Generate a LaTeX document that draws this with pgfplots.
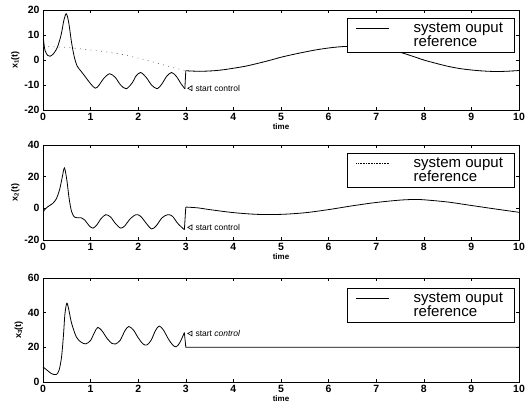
\documentclass[border=0pt]{standalone}
\usepackage{pgfplots}
\pgfplotsset{compat=1.18}
\usepackage{fontspec}
\setmainfont{Liberation Sans}

\pgfplotsset{
  panel/.style={
    scale only axis, width=476pt, anchor=north west,
    xmin=0, xmax=10, xtick={0,1,...,10},
    tick align=inside, major tick length=3pt,
    axis line style={line width=0.6pt}, every tick/.style={line width=0.5pt, black},
    /pgf/number format/assume math mode=true,
    ticklabel style={font=\bfseries\fontsize{10.5}{10.5}\selectfont},
    xlabel={time},
    xlabel style={font=\bfseries\fontsize{8}{8}\selectfont, yshift=4pt},
    ylabel style={font=\bfseries\fontsize{9}{9}\selectfont, yshift=-2pt},
    legend style={at={(rel axis cs:0.99,1)}, anchor=north east, yshift=-8pt,
      font=\fontsize{15}{13}\selectfont, draw=black, line width=0.6pt,
      inner xsep=9pt, inner ysep=2.5pt, row sep=-2.5pt,
      /tikz/every odd column/.append style={column sep=22pt}},
    legend cell align=left,
    legend image code/.code={\draw[#1, line width=0.6pt] (0pt,0pt) -- (33pt,0pt);},
  },
  out/.style={black, line width=0.8pt},
  ref/.style={black!60, line width=0.7pt, dash pattern=on 0.8pt off 4.5pt},
  noimg/.style={legend image code/.code={\path[draw=none] (0pt,0pt) -- (33pt,0pt);}},
}

\begin{document}
\begin{tikzpicture}
\useasboundingbox (0pt,0pt) rectangle (525pt,-414pt);

% ---------------- panel 1 ----------------
\begin{axis}[panel, at={(43pt,-10pt)}, height=100pt,
  ymin=-20, ymax=20, ytick={-20,-10,0,10,20},
  ylabel={x\textsubscript{1}(t)}]
\addlegendimage{black, solid}
\addlegendentry{system ouput}
\addlegendimage{noimg}
\addlegendentry{reference}
\addplot[ref, smooth, forget plot] coordinates {
 (0,5.5) (0.5,5) (1,4) (1.5,2.8) (2,0.8) (2.5,-1.8) (3,-4.3)
 (3.25,-4.5) (3.5,-4.4) (3.75,-4) (4,-3.3) (4.25,-2.5) (4.5,-1.4) (4.75,-0.2)
 (5,1.1) (5.25,2.2) (5.5,3.2) (5.75,4.1) (6,4.8) (6.25,5.3) (6.5,5.5) (6.75,5.4)
 (7,5) (7.25,4.2) (7.5,3.1) (7.75,1.6) (8,0) (8.25,-1.3) (8.5,-2.5) (8.75,-3.4)
 (9,-4) (9.25,-4.4) (9.5,-4.6) (9.75,-4.5) (10,-4.2)};
\addplot[out, smooth, tension=0.5, forget plot] coordinates {
 (0,10) (0.04,4) (0.1,1.8) (0.15,1.5) (0.22,2.5) (0.3,5) (0.38,10) (0.44,16)
 (0.49,18.5) (0.54,15) (0.6,7) (0.66,1) (0.72,-2.5) (0.8,-4.5) (0.9,-7)
 (1.0,-9.5) (1.1,-11.3) (1.18,-10) (1.27,-7.5) (1.4,-5.5) (1.52,-7) (1.63,-10)
 (1.75,-11.5) (1.88,-9) (1.95,-6.5) (2.05,-5) (2.17,-7) (2.28,-10) (2.4,-11.5)
 (2.5,-9.5) (2.6,-6.5) (2.7,-5) (2.8,-6.5) (2.9,-9.5) (2.98,-11.5)};
\addplot[out, forget plot] coordinates {(2.98,-11.5) (3.0,-4.3)};
\addplot[out, smooth, forget plot] coordinates {
 (3,-4.3) (3.25,-4.5) (3.5,-4.4) (3.75,-4) (4,-3.3) (4.25,-2.5) (4.5,-1.4) (4.75,-0.2)
 (5,1.1) (5.25,2.2) (5.5,3.2) (5.75,4.1) (6,4.8) (6.25,5.3) (6.5,5.5) (6.75,5.4)
 (7,5) (7.25,4.2) (7.5,3.1) (7.75,1.6) (8,0) (8.25,-1.3) (8.5,-2.5) (8.75,-3.4)
 (9,-4) (9.25,-4.4) (9.5,-4.6) (9.75,-4.5) (10,-4.2)};
\addplot[black, only marks, mark=triangle, mark size=2.8pt, mark options={rotate=90, line width=0.6pt}, forget plot]
 coordinates {(3.1,-11.3)};
\node[anchor=west, font=\fontsize{8.5}{9}\selectfont, inner sep=0pt] at (axis cs:3.2,-11.3) {start control};
\end{axis}

% ---------------- panel 2 ----------------
\begin{axis}[panel, at={(43pt,-145pt)}, height=95pt,
  ymin=-20, ymax=40, ytick={-20,0,20,40},
  ylabel={x\textsubscript{2}(t)}]
\addlegendimage{black, densely dotted}
\addlegendentry{system ouput}
\addlegendimage{noimg}
\addlegendentry{reference}
\addplot[out, smooth, tension=0.5, forget plot] coordinates {
 (0,-3) (0.03,-1) (0.1,1) (0.2,3) (0.28,6) (0.35,12) (0.4,19) (0.45,25.5)
 (0.5,18) (0.55,6) (0.6,-2) (0.66,-5.5) (0.72,-6) (0.8,-6) (0.88,-7.5)
 (0.97,-11) (1.05,-12.5) (1.13,-10.5) (1.22,-6.5) (1.32,-4) (1.42,-5.5)
 (1.52,-9.5) (1.63,-12.5) (1.72,-11) (1.82,-7) (1.95,-4) (2.05,-5) (2.17,-9.5)
 (2.28,-13) (2.38,-11) (2.5,-6) (2.62,-4) (2.72,-5) (2.83,-9.5) (2.97,-13.5)};
\addplot[out, forget plot] coordinates {(2.97,-13.5) (3.0,0.8)};
\addplot[out, smooth, forget plot] coordinates {
 (3,0.8) (3.25,0.3) (3.5,-0.8) (4,-2.7) (4.5,-3.8) (5,-3.8) (5.5,-2.8) (6,-0.8)
 (6.5,1.6) (7,3.7) (7.5,5.2) (7.8,5.6) (8,5.4) (8.5,4) (9,1.8) (9.5,-0.4) (10,-2.5)};
\addplot[black, only marks, mark=triangle, mark size=2.8pt, mark options={rotate=90, line width=0.6pt}, forget plot]
 coordinates {(3.1,-12)};
\node[anchor=west, font=\fontsize{8.5}{9}\selectfont, inner sep=0pt] at (axis cs:3.2,-12) {start control};
\end{axis}

% ---------------- panel 3 ----------------
\begin{axis}[panel, at={(43pt,-278pt)}, height=104pt,
  ymin=0, ymax=60, ytick={0,20,40,60},
  ylabel={x\textsubscript{3}(t)},
  legend style={yshift=-2pt}]
\addlegendimage{black, solid}
\addlegendentry{system ouput}
\addlegendimage{noimg}
\addlegendentry{reference}
\addplot[out, smooth, tension=0.5, forget plot] coordinates {
 (0,8.7) (0.1,6.5) (0.18,4.8) (0.28,4.3) (0.34,7) (0.39,14.5) (0.43,27) (0.46,39)
 (0.5,45.5) (0.54,42) (0.6,34) (0.7,26) (0.8,23) (0.9,22) (1.0,24) (1.08,28.5)
 (1.15,31.5) (1.24,29.5) (1.35,25) (1.45,22.2) (1.52,21.9) (1.62,24) (1.72,29.5)
 (1.8,32) (1.9,30) (2.0,25.5) (2.1,22) (2.18,21.3) (2.27,24) (2.36,29.5) (2.44,32.3)
 (2.53,30) (2.63,25) (2.72,21.5) (2.8,20.3) (2.88,23) (2.97,28.5)};
\addplot[out, forget plot] coordinates {(2.97,28.5) (3.0,20) (10,20)};
\addplot[black, only marks, mark=triangle, mark size=2.8pt, mark options={rotate=90, line width=0.6pt}, forget plot]
 coordinates {(3.1,28)};
\node[anchor=west, font=\fontsize{8.5}{9}\selectfont, inner sep=0pt] at (axis cs:3.2,28) {start \textit{control}};
\end{axis}
\end{tikzpicture}
\end{document}
